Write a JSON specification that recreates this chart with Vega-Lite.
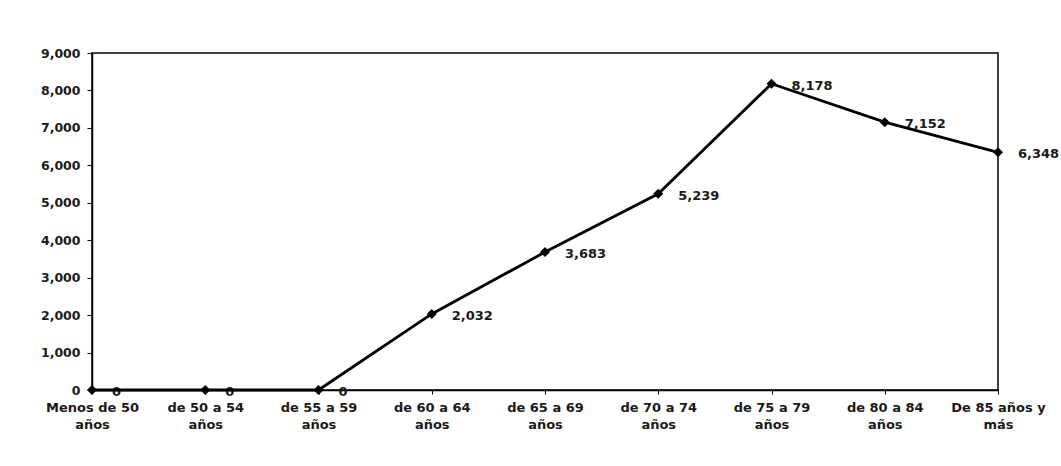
{
  "$schema": "https://vega.github.io/schema/vega-lite/v6.json",
  "autosize": {"type": "none"},
  "width": 906,
  "height": 337,
  "padding": {"left": 92, "top": 53, "right": 63, "bottom": 76},
  "background": "white",
  "config": {
    "view": {"stroke": "black", "strokeWidth": 1.5},
    "font": "DejaVu Sans"
  },
  "data": {
    "values": [
      {"grupo": "Menos de 50|años", "valor": 0},
      {"grupo": "de 50 a 54|años", "valor": 0},
      {"grupo": "de 55 a 59|años", "valor": 0},
      {"grupo": "de 60 a 64|años", "valor": 2032},
      {"grupo": "de 65 a 69|años", "valor": 3683},
      {"grupo": "de 70 a 74|años", "valor": 5239},
      {"grupo": "de 75 a 79|años", "valor": 8178},
      {"grupo": "de 80 a 84|años", "valor": 7152},
      {"grupo": "De 85 años y|más", "valor": 6348}
    ]
  },
  "encoding": {
    "x": {
      "field": "grupo", "type": "ordinal", "sort": null,
      "scale": {"type": "point", "padding": 0},
      "axis": {
        "title": null, "labelAngle": 0, "labelExpr": "split(datum.value, '|')",
        "labelFont": "DejaVu Sans", "labelFontWeight": "bold", "labelFontSize": 13,
        "labelColor": "#1a1a1a", "labelPadding": 7, "labelLineHeight": 17,
        "domainColor": "black", "domainWidth": 1.5, "tickColor": "black", "tickSize": 4,
        "grid": false
      }
    },
    "y": {
      "field": "valor", "type": "quantitative",
      "scale": {"domain": [0, 9000], "nice": false},
      "axis": {
        "title": null, "values": [0,1000,2000,3000,4000,5000,6000,7000,8000,9000],
        "format": ",d", "labelFont": "DejaVu Sans", "labelFontWeight": "bold",
        "labelFontSize": 12.5, "labelColor": "#1a1a1a", "labelPadding": 7,
        "domainColor": "black", "domainWidth": 1.5, "tickColor": "black", "tickSize": 5,
        "grid": false
      }
    }
  },
  "layer": [
    {
      "mark": {"type": "text", "align": "left", "dx": 20, "dy": 2, "fontWeight": "bold", "fontSize": 13, "color": "#1a1a1a", "font": "DejaVu Sans"},
      "encoding": {"text": {"field": "valor", "type": "quantitative", "format": ",d"}}
    },
    {"mark": {"type": "line", "color": "black", "strokeWidth": 2.8}},
    {"mark": {"type": "point", "shape": "diamond", "filled": true, "color": "black", "size": 100, "opacity": 1}}
  ]
}
